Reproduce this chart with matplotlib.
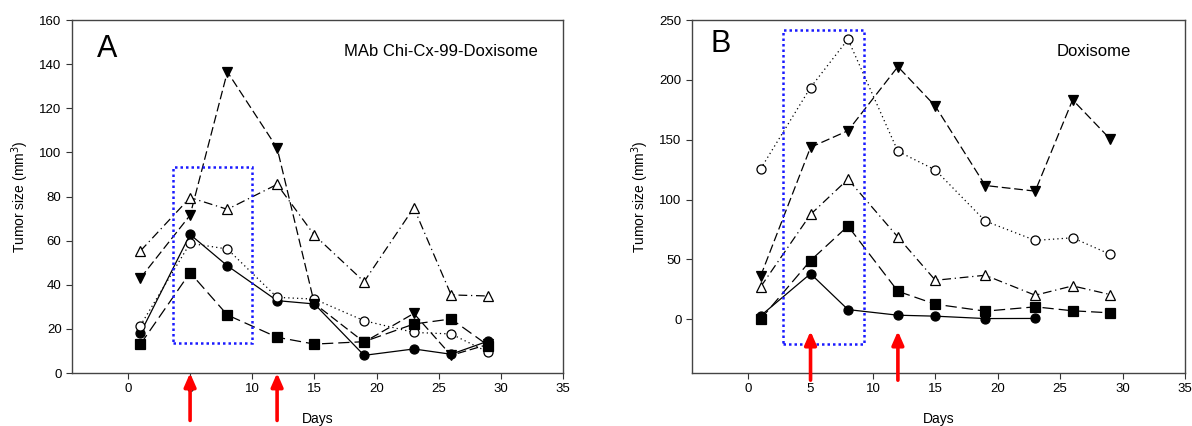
import matplotlib
matplotlib.use('Agg')
import matplotlib.pyplot as plt
from matplotlib.patches import Rectangle

plt.rcParams['font.family'] = ['Liberation Sans', 'DejaVu Sans']

# ─── Datos ──────────────────────────────────────────────────────────────────
days = [1, 5, 8, 12, 15, 19, 23, 26, 29]
dose_days = [5, 12]

# Panel A: MAb Chi-Cx-99-Doxisome
a_circle_filled = [18, 62.8, 48.6, 32.8, 31.3, 8.0, 10.9, 8.5, 14.5]
a_circle_open = [21.5, 58.8, 56.2, 34.3, 33.5, 23.7, 18.4, 17.7, 9.4]
a_square = [13, 45.5, 26.3, 16.2, 13.1, 14.2, 22.2, 24.5, 12.4]
a_tri_down = [43, 71.5, 136.5, 102, 31.5, 14, 27, 8, 13]
a_tri_up = [55.3, 79.5, 74.2, 85.5, 62.5, 41.4, 74.9, 35.4, 34.9]

# Panel B: Doxisome
b_days_circle = [1, 5, 8, 12, 15, 19, 23]
b_circle_filled = [2.8, 38, 8, 3.3, 2.5, 0.5, 0.6]
b_circle_open = [125.6, 193.6, 233.9, 140.3, 124.7, 82, 65.8, 68, 54.2]
b_square = [0, 49, 77.8, 23.3, 12.5, 6.7, 10.3, 7, 5.3]
b_tri_down = [36, 143.6, 157.5, 211, 178, 111.7, 107, 183.3, 150.6]
b_tri_up = [27, 87.5, 117, 68.6, 32.5, 36.7, 20, 27.8, 20.6]

FS = 9.5


def style_axes(ax, ylim, yticks):
    ax.set_xlim(-4.5, 35)
    ax.set_ylim(*ylim)
    ax.set_xticks(range(0, 36, 5))
    ax.set_yticks(yticks)
    ax.tick_params(direction='out', length=4, labelsize=FS, color='#333333',
                   top=False, right=False)
    for s in ax.spines.values():
        s.set_color('#444444')
        s.set_linewidth(1.0)
    ax.set_xlabel('Days', fontsize=FS + 0.5, labelpad=12)
    ax.set_ylabel('Tumor size (mm$^3$)', fontsize=FS + 0.5, labelpad=6)


def series(ax, x, y, marker, face, ls):
    ax.plot(x, y, color='black', lw=0.9, ls=ls, marker=marker, ms=6.5,
            mfc=face, mec='black', mew=0.9, clip_on=False, zorder=3)


def arrows(ax, y0, y1):
    for d in dose_days:
        ax.annotate('', xy=(d, y1), xytext=(d, y0), annotation_clip=False,
                    arrowprops=dict(arrowstyle='-|>,head_width=0.35,head_length=0.8',
                                    color='red', lw=2.6, shrinkA=0, shrinkB=0),
                    zorder=5)


LS_DOT = (0, (1, 2.5))
LS_LONG = (0, (9, 4))
LS_DASH = (0, (7, 3))
LS_DASHDOT = (0, (7, 3, 1, 3))

fig = plt.figure(figsize=(11.92, 4.26), dpi=100)
axA = fig.add_axes([0.0604, 0.1244, 0.4119, 0.8286])
axB = fig.add_axes([0.5805, 0.1244, 0.4136, 0.8286])

# ── Panel A ──
series(axA, days, a_circle_filled, 'o', 'black', '-')
series(axA, days, a_circle_open, 'o', 'white', LS_DOT)
series(axA, days, a_square, 's', 'black', LS_LONG)
series(axA, days, a_tri_down, 'v', 'black', LS_DASH)
series(axA, days, a_tri_up, '^', 'white', LS_DASHDOT)
axA.add_patch(Rectangle((3.6, 13.5), 6.4, 79.7, fill=False, ec='#1a1aff',
                        lw=1.8, ls=(0, (1, 1.2)), zorder=4))
style_axes(axA, (0, 160), range(0, 161, 20))
arrows(axA, -21.5, 0)
axA.text(0.05, 0.918, 'A', transform=axA.transAxes, fontsize=22, va='center')
axA.text(0.949, 0.912, 'MAb Chi-Cx-99-Doxisome', transform=axA.transAxes,
         fontsize=12, ha='right', va='center')

# ── Panel B ──
series(axB, b_days_circle, b_circle_filled, 'o', 'black', '-')
series(axB, days, b_circle_open, 'o', 'white', LS_DOT)
series(axB, days, b_square, 's', 'black', LS_LONG)
series(axB, days, b_tri_down, 'v', 'black', LS_DASH)
series(axB, days, b_tri_up, '^', 'white', LS_DASHDOT)
axB.add_patch(Rectangle((2.8, -21), 6.5, 262.5, fill=False, ec='#1a1aff',
                        lw=1.8, ls=(0, (1, 1.2)), zorder=4))
style_axes(axB, (-45, 250), range(0, 251, 50))
arrows(axB, -51, -10)
axB.text(0.037, 0.932, 'B', transform=axB.transAxes, fontsize=22, va='center')
axB.text(0.890, 0.912, 'Doxisome', transform=axB.transAxes,
         fontsize=12, ha='right', va='center')

fig.savefig('out.png', dpi=100)
